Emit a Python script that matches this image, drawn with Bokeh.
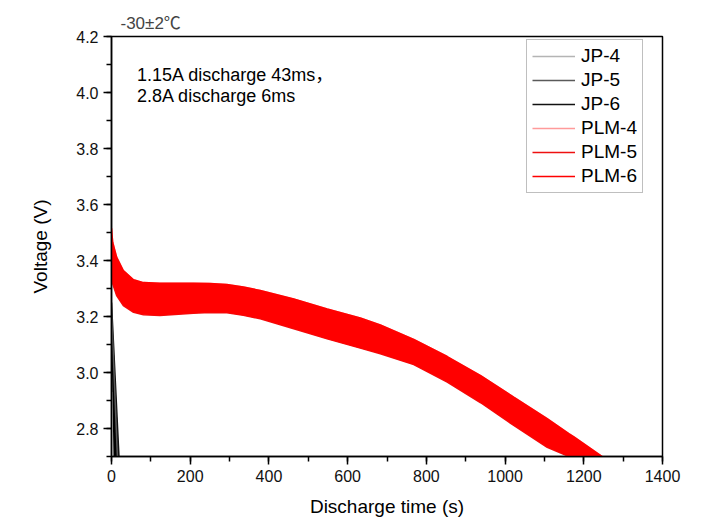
from bokeh.plotting import figure
from bokeh.models import Range1d, Legend, LegendItem, Label, FixedTicker, CustomJSTickFormatter
from bokeh.embed import file_html
from bokeh.resources import INLINE

# ---- data ----
plm_t = [0, 3, 13, 30, 56, 81, 123, 208, 250, 293, 335, 378, 463, 548, 632, 683,
         768, 853, 938, 1022, 1107, 1162, 1175, 1247]
plm_upper = [3.515, 3.465, 3.412, 3.364, 3.331, 3.321, 3.319, 3.319, 3.318, 3.314,
             3.305, 3.293, 3.263, 3.227, 3.195, 3.170, 3.118, 3.057, 2.989, 2.912,
             2.835, 2.782, 2.770, 2.700]
plm_lower = [3.329, 3.317, 3.275, 3.239, 3.215, 3.206, 3.204, 3.212, 3.214, 3.213,
             3.204, 3.192, 3.156, 3.120, 3.087, 3.067, 3.028, 2.966, 2.892, 2.811,
             2.733, 2.700, 2.690, 2.620]

jp6_t = [0, 5, 19]
jp6_upper = [3.25, 3.105, 2.70]
jp6_lower = [3.10, 2.70, 2.70]
jp5_t = [0, 15]
jp5_v = [3.22, 2.70]
jp4_t = [0, 1]
jp4_v = [2.93, 2.70]

x_ticks = [0, 200, 400, 600, 800, 1000, 1200, 1400]
y_ticks = [2.8, 3.0, 3.2, 3.4, 3.6, 3.8, 4.0, 4.2]

series_names = ["JP-4", "JP-5", "JP-6", "PLM-4", "PLM-5", "PLM-6"]
series_colors = ["#b4b4b4", "#5a5a5a", "#111111", "#ff9a9a", "#ee1010", "#ff0000"]

title_text = "-30\u00b12\u2103"
note_lines = ["1.15A discharge 43ms\uff0c", "2.8A discharge 6ms"]
note_y = [4.064, 3.989]

FONT = "Liberation Sans"
FONT_CJK = "'Liberation Sans', 'Noto Sans CJK SC'"

p = figure(width=701, height=519, output_backend="svg", toolbar_location=None,
           x_range=Range1d(0, 1400), y_range=Range1d(2.7, 4.2),
           min_border_left=111, min_border_right=39, min_border_top=36,
           min_border_bottom=63, background_fill_color="white",
           border_fill_color="white")
p.grid.visible = False
p.outline_line_color = "black"
p.outline_line_width = 1.5

p.title.text = title_text
p.title.text_font = FONT_CJK
p.title.text_font_size = "17px"
p.title.text_font_style = "normal"
p.title.align = "left"
p.title.offset = 9
p.title.standoff = 8

# envelope lines under the band
r_plm4 = p.line(plm_t, plm_upper, line_color=series_colors[3], line_width=1.5)
r_plm5 = p.line(plm_t, plm_lower, line_color=series_colors[4], line_width=1.5)
p.varea(x=plm_t, y1=plm_lower, y2=plm_upper, fill_color=series_colors[5], fill_alpha=1.0)
r_plm6 = p.line(plm_t, plm_upper, line_color=series_colors[5], line_width=1.5)

p.varea(x=jp6_t, y1=jp6_lower, y2=jp6_upper, fill_color="black", fill_alpha=1.0)
r_jp6 = p.line(jp6_t, jp6_upper, line_color=series_colors[2], line_width=1.5)
r_jp5 = p.line(jp5_t, jp5_v, line_color=series_colors[1], line_width=1.5)
r_jp4 = p.line(jp4_t, jp4_v, line_color=series_colors[0], line_width=1.5)

renderers = [r_jp4, r_jp5, r_jp6, r_plm4, r_plm5, r_plm6]
items = [LegendItem(label=n, renderers=[r]) for n, r in zip(series_names, renderers)]
legend = Legend(items=items, location=(415, 263), label_text_font=FONT,
                label_text_font_size="19px", label_text_color="black",
                glyph_width=43, glyph_height=20, label_height=20, spacing=2,
                padding=5, label_standoff=6, border_line_color="#808080",
                border_line_width=1, background_fill_color="white",
                background_fill_alpha=1.0, margin=0)
p.add_layout(legend)

for txt, yv in zip(note_lines, note_y):
    p.add_layout(Label(x=65, y=yv, text=txt, text_font=FONT_CJK,
                       text_font_size="18px", text_color="black",
                       text_baseline="alphabetic"))

for ax in (p.xaxis[0], p.yaxis[0]):
    ax.axis_line_color = "black"
    ax.axis_line_width = 1.5
    ax.major_tick_line_color = "black"
    ax.major_tick_line_width = 1.5
    ax.minor_tick_line_color = "black"
    ax.minor_tick_line_width = 1.5
    ax.major_tick_out = 8
    ax.major_tick_in = 0
    ax.minor_tick_out = 5
    ax.minor_tick_in = 0
    ax.major_label_text_font = FONT
    ax.major_label_text_font_size = "16px"
    ax.major_label_text_color = "#111111"
    ax.axis_label_text_font = FONT
    ax.axis_label_text_font_size = "19px"
    ax.axis_label_text_font_style = "normal"
    ax.axis_label_text_color = "black"

p.xaxis.ticker = FixedTicker(ticks=x_ticks, minor_ticks=list(range(0, 1401, 100)))
p.yaxis.ticker = FixedTicker(ticks=y_ticks,
                             minor_ticks=[round(2.7 + 0.1 * i, 1) for i in range(16)])
p.yaxis.formatter = CustomJSTickFormatter(code="return tick.toFixed(1);")
p.xaxis.axis_label = "Discharge time (s)"
p.yaxis.axis_label = "Voltage (V)"
p.xaxis.major_label_standoff = 5
p.xaxis.axis_label_standoff = 11
p.yaxis.major_label_standoff = 5
p.yaxis.axis_label_standoff = 22

open("out.html", "w").write(file_html(p, INLINE))
